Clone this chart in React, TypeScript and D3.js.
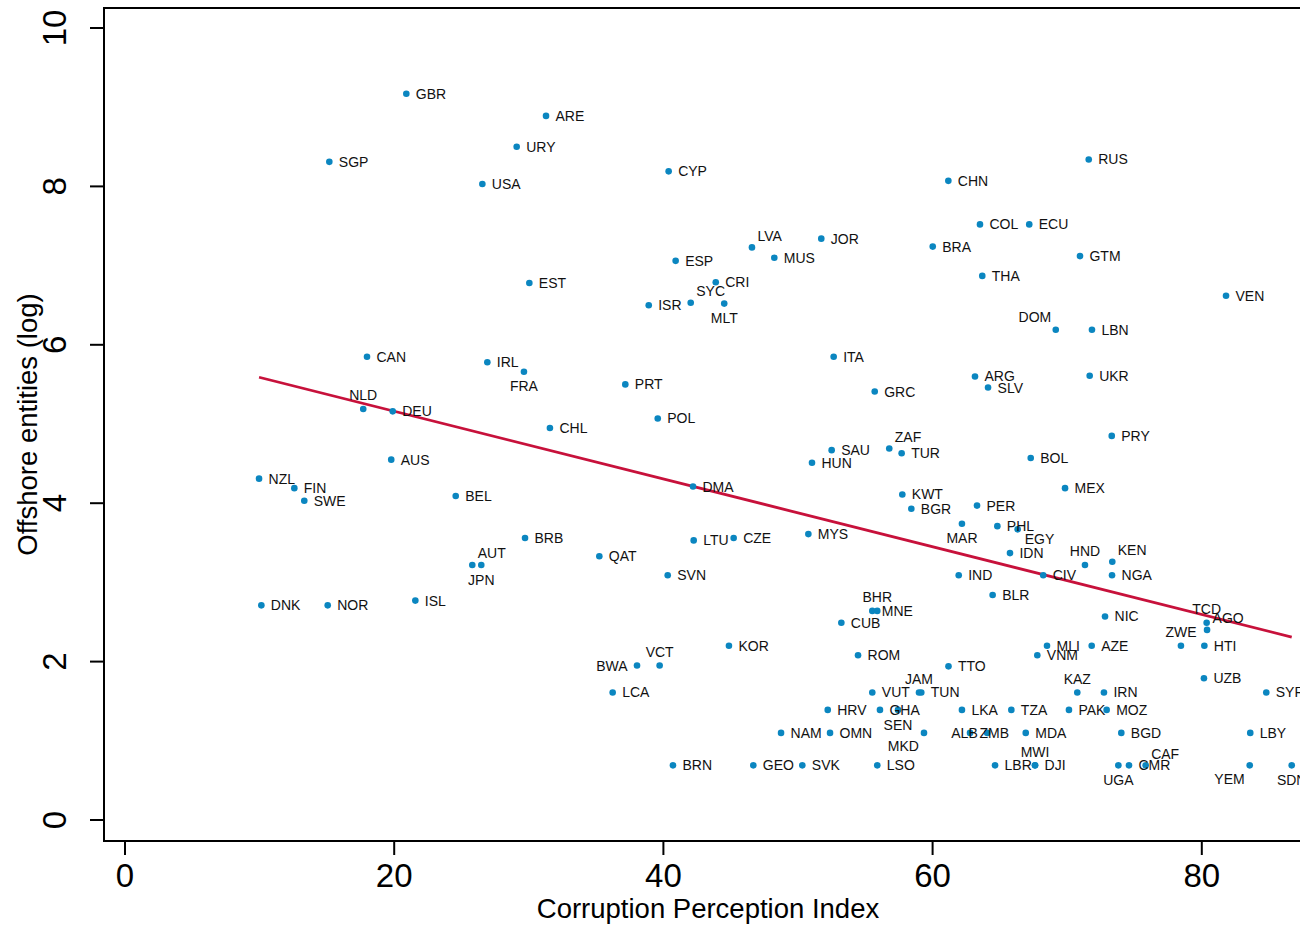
import React from "react";
import * as d3 from "d3";

const countries = ["GBR","SGP","USA","ARE","URY","CYP","LVA","JOR","MUS","ESP","EST","CRI","RUS","CHN","COL","ECU","BRA","GTM","THA","CAN","IRL","NLD","DEU","AUS","NZL","FIN","SWE","BEL","AUT","JPN","ISR","SYC","MLT","ITA","FRA","PRT","GRC","POL","CHL","SAU","ZAF","HUN","DMA","BRB","LTU","CZE","MYS","QAT","SVN","VEN","DOM","LBN","ARG","UKR","SLV","PRY","TUR","BOL","MEX","KWT","BGR","PER","MAR","PHL","EGY","IDN","HND","KEN","NGA","IND","CIV","DNK","NOR","ISL","MNE","BHR","CUB","KOR","VCT","BWA","ROM","LCA","VUT","HRV","GHA","NAM","OMN","BRN","GEO","SVK","LSO","BLR","TTO","JAM","TUN","SEN","LKA","TZA","PAK","MOZ","MKD","ZMB","ALB","MDA","LBR","DJI","MWI","MLI","AZE","VNM","KAZ","IRN","NIC","TCD","AGO","ZWE","HTI","UZB","SYR","BGD","LBY","UGA","CMR","CAF","YEM","SDN"];

const cpi = [20.90,15.18,26.55,31.28,29.10,40.39,46.58,51.73,48.24,40.91,30.04,43.89,71.60,61.17,63.52,67.18,60.01,70.95,63.69,17.98,26.92,17.70,19.89,19.78,9.96,12.58,13.32,24.57,25.80,26.47,38.91,42.03,44.52,52.65,29.64,37.17,55.70,39.58,31.57,52.50,56.78,51.04,42.20,29.72,42.25,45.22,50.77,35.24,40.32,81.80,69.15,71.84,63.15,71.67,64.12,73.31,57.70,67.29,69.84,57.75,58.42,63.30,62.18,64.81,66.32,65.75,71.32,73.35,73.33,61.94,68.22,10.13,15.06,21.57,55.52,55.89,53.22,44.87,39.72,38.04,54.46,36.23,55.52,52.21,56.09,48.74,52.38,40.71,46.68,50.32,55.89,64.46,61.18,58.99,59.16,57.43,62.18,65.85,70.13,72.93,59.36,62.78,64.06,66.92,64.64,67.61,67.61,68.50,71.82,67.78,70.75,72.73,72.81,80.36,80.39,78.45,80.19,80.16,84.79,74.02,83.60,73.80,74.59,75.83,83.56,86.68];

const entities = [9.17,8.31,8.03,8.89,8.50,8.19,7.23,7.34,7.10,7.06,6.78,6.79,8.34,8.07,7.52,7.52,7.24,7.12,6.87,5.85,5.78,5.19,5.16,4.55,4.31,4.19,4.03,4.09,3.22,3.22,6.50,6.53,6.52,5.85,5.66,5.50,5.41,5.07,4.95,4.67,4.69,4.51,4.21,3.56,3.53,3.56,3.61,3.33,3.09,6.62,6.19,6.19,5.60,5.61,5.46,4.85,4.63,4.57,4.19,4.11,3.93,3.97,3.74,3.71,3.67,3.37,3.22,3.26,3.09,3.09,3.09,2.71,2.71,2.77,2.64,2.64,2.49,2.20,1.95,1.95,2.08,1.61,1.61,1.39,1.39,1.10,1.10,0.69,0.69,0.69,0.69,2.84,1.94,1.61,1.61,1.39,1.39,1.39,1.39,1.39,1.10,1.10,1.10,1.10,0.69,0.69,0.69,2.20,2.20,2.08,1.61,1.61,2.57,2.49,2.40,2.20,2.20,1.79,1.61,1.10,1.10,0.69,0.69,0.69,0.69,0.69];

// label side relative to point: r, l, t, b, tr, tl, br, bl
const labelSide = ["r","r","r","r","r","r","tr","r","r","r","r","r","r","r","r","r","r","r","r","r","r","t","r","r","r","r","r","r","tr","b","r","tr","b","r","b","r","r","r","r","r","tr","r","r","r","r","r","r","r","r","r","tl","r","r","r","r","r","r","r","r","r","r","r","b","r","br","r","t","tr","r","r","r","r","r","r","r","t","r","r","t","l","r","r","r","r","r","r","r","r","r","r","r","r","r","t","r","b","r","r","r","r","bl","r","l","r","r","r","t","r","r","r","t","r","r","t","tr","t","r","r","r","r","r","b","r","tr","bl","b"];

const xTicks = [0, 20, 40, 60, 80];
const yTicks = [0, 2, 4, 6, 8, 10];
const fitIntercept = 6.016;
const fitSlope = -0.04276;
const xTitle = "Corruption Perception Index";
const yTitle = "Offshore entities (log)";

const W = 1300, H = 929;
const FONT = "'Liberation Sans', Arial, Helvetica, sans-serif";
const DOT = "#0b86c0";
const RED = "#c7113b";

export default function App() {
  const x = d3.scaleLinear().domain([0, 80]).range([125, 125 + 80 * 13.46]);
  const y = d3.scaleLinear().domain([0, 10]).range([820, 28]);
  const frame = { left: 104, right: 1312, top: 8, bottom: 841 };

  const pts = countries.map((c, i) => ({ c, vx: cpi[i], vy: entities[i], side: labelSide[i] }));
  const xMin = d3.min(cpi) as number;
  const xMax = d3.max(cpi) as number;
  const line = d3.line<number>().x(v => x(v)).y(v => y(fitIntercept + fitSlope * v));

  const labelProps = (side: string, px: number, py: number) => {
    switch (side) {
      case "l": return { x: px - 9.5, y: py + 5, anchor: "end" };
      case "t": return { x: px, y: py - 8.5, anchor: "middle" };
      case "b": return { x: px, y: py + 19.7, anchor: "middle" };
      case "tr": return { x: px + 5.5, y: py - 6.8, anchor: "start" };
      case "tl": return { x: px - 4.5, y: py - 7.7, anchor: "end" };
      case "br": return { x: px + 7, y: py + 14.5, anchor: "start" };
      case "bl": return { x: px - 5, y: py + 18.5, anchor: "end" };
      default: return { x: px + 9.5, y: py + 5, anchor: "start" };
    }
  };

  return (
    <svg width={W} height={H} style={{ position: "absolute", left: 0, top: 0, background: "#fff" }} fontFamily={FONT}>
      <rect x={0} y={0} width={W} height={H} fill="#fff" />
      <path d={line([xMin, xMax]) || ""} stroke={RED} strokeWidth={2.8} fill="none" />
      {pts.map(p => (
        <circle key={"d" + p.c} cx={x(p.vx)} cy={y(p.vy)} r={3.3} fill={DOT} />
      ))}
      {pts.map(p => {
        const lp = labelProps(p.side, x(p.vx), y(p.vy));
        return (
          <text key={"t" + p.c} x={lp.x} y={lp.y} textAnchor={lp.anchor} fontSize={14} fill="#111">{p.c}</text>
        );
      })}
      <rect x={frame.left} y={frame.top} width={frame.right - frame.left} height={frame.bottom - frame.top} fill="none" stroke="#000" strokeWidth={2} />
      {xTicks.map(t => (
        <g key={"xt" + t}>
          <line x1={x(t)} x2={x(t)} y1={frame.bottom} y2={frame.bottom + 14} stroke="#000" strokeWidth={2} />
          <text x={x(t)} y={887} textAnchor="middle" fontSize={33} fill="#000">{t}</text>
        </g>
      ))}
      {yTicks.map(t => (
        <g key={"yt" + t}>
          <line x1={frame.left - 14} x2={frame.left} y1={y(t)} y2={y(t)} stroke="#000" strokeWidth={2} />
          <text transform={`translate(66,${y(t)}) rotate(-90)`} textAnchor="middle" fontSize={33} fill="#000">{t}</text>
        </g>
      ))}
      <text x={(frame.left + 1312) / 2} y={918} textAnchor="middle" fontSize={27.5} fill="#000">{xTitle}</text>
      <text transform={`translate(37,${(frame.top + frame.bottom) / 2}) rotate(-90)`} textAnchor="middle" fontSize={27.5} fill="#000">{yTitle}</text>
    </svg>
  );
}
